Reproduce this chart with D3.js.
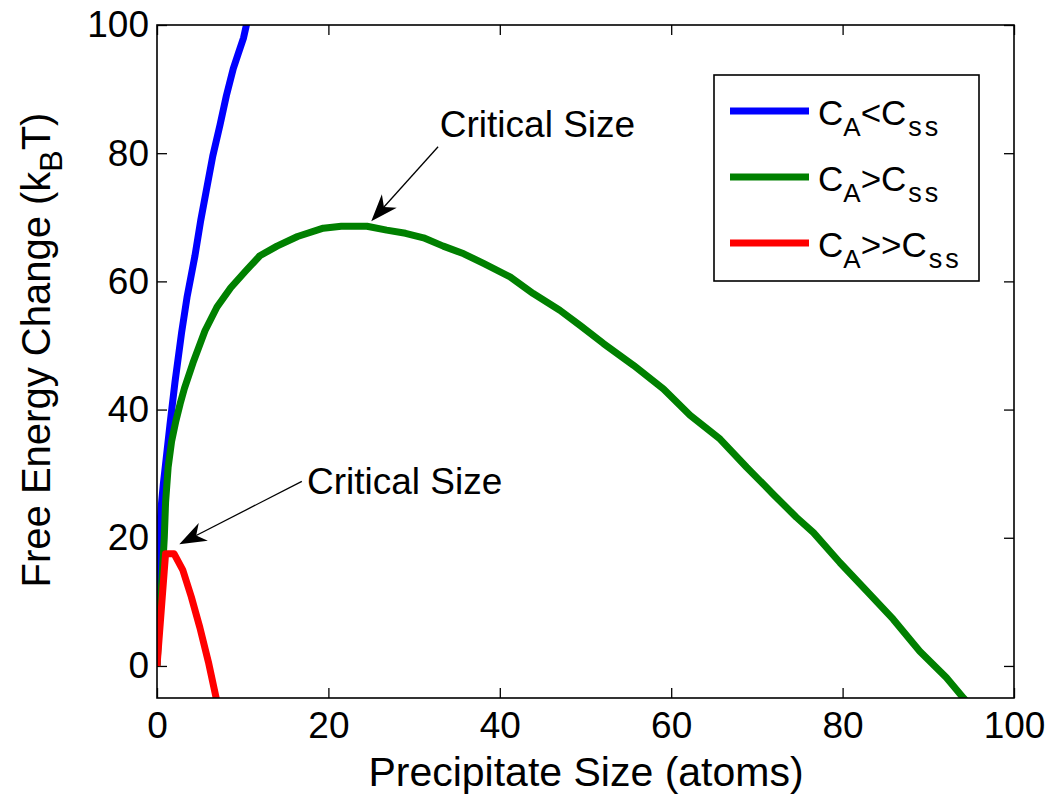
<!DOCTYPE html>
<html><head><meta charset="utf-8">
<script src="https://cdn.jsdelivr.net/npm/d3@7"></script>
<style>
body{margin:0;background:#fff;}
svg{display:block;font-family:Arial,"Liberation Sans",Helvetica,sans-serif;}
</style></head><body>
<svg id="chart" width="1049" height="795"></svg>
<script>
// ---------- data ----------
const xTicks = [0, 20, 40, 60, 80, 100];
const yTicks = [0, 20, 40, 60, 80, 100];

const blueX = [0, 0.05, 0.15, 0.27, 0.5, 0.74, 1, 1.5, 2.1, 2.87, 3.5, 4.43, 5.1, 5.8, 6.5, 7.35, 8.1, 8.9, 9.5, 10.1, 10.6];
const blueY = [0, 9, 16, 20.6, 25, 28.4, 31.5, 37.5, 44.3, 52, 57.5, 64, 69.5, 74.5, 79.5, 84.4, 89, 93.2, 95.6, 98, 101];

const greenX = [0, 0.3, 0.6, 0.85, 1.0, 1.3, 1.7, 2.2, 2.7, 3.2, 4.2, 5.6, 7.0, 8.6, 10.4, 12, 14, 16.4, 19.4, 21.5, 24.5, 26.8, 29, 31.1, 33.4, 35.8, 38.1, 41.2, 43.9, 47, 49.4, 52.1, 55.6, 59.1, 62.2, 65.7, 68.8, 71.9, 74.6, 76.6, 79.7, 82.8, 85.9, 89, 92.1, 94.1, 94.8];
const greenY = [0, 8, 14, 20, 25.5, 31, 35, 38.2, 40.9, 43.3, 47.3, 52.3, 56, 59, 61.7, 64, 65.5, 67, 68.3, 68.6, 68.6, 68, 67.5, 66.8, 65.5, 64.3, 62.8, 60.7, 58.1, 55.5, 53.1, 50.3, 46.9, 43.2, 39.1, 35.4, 31, 26.8, 23.2, 20.8, 16.1, 11.7, 7.3, 2.3, -1.8, -5, -6];

const redX = [0, 1, 2, 3, 4, 5, 6, 7];
const redY = [0, 17.5, 17.5, 15, 10.8, 6, 0.6, -5.6];

const seriesOps = ["<", ">", ">>"];
const seriesColors = ["#0000ff", "#008000", "#ff0000"];

// annotations (data coordinates)
const annoText = ["Critical Size", "Critical Size"];
const annoTextPos = [[33.0, 82.5], [17.5, 26.8]];
const annoTail = [[32.8, 81.0], [16.9, 28.8]];
const annoTip = [[25.0, 69.4], [2.6, 19.0]];

// ---------- layout ----------
const L = 157, R = 1014, T = 25, B = 698;
const svg = d3.select("#chart");
const x = d3.scaleLinear().domain([0, 100]).range([L, R]);
const y = d3.scaleLinear().domain([-5, 100]).range([B, T]);

svg.append("defs").append("clipPath").attr("id", "clip")
  .append("rect").attr("x", L).attr("y", T).attr("width", R - L).attr("height", B - T);

// ---------- axes ----------
const tickFont = "37px";
function styleAxis(g) {
  g.select(".domain").remove();
  g.selectAll(".tick line").attr("stroke", "#000").attr("stroke-width", 1.3);
  g.selectAll(".tick text").attr("fill", "#000").style("font-size", tickFont)
    .style("font-family", "Arial, 'Liberation Sans', sans-serif");
}
svg.append("g").attr("transform", `translate(0,${B})`)
  .call(d3.axisBottom(x).tickValues(xTicks).tickSizeInner(-10).tickSizeOuter(0).tickPadding(14).tickFormat(d3.format("d")))
  .call(styleAxis);
svg.append("g").attr("transform", `translate(0,${T})`)
  .call(d3.axisTop(x).tickValues(xTicks).tickSizeInner(-10).tickSizeOuter(0).tickFormat(""))
  .call(styleAxis);
svg.append("g").attr("transform", `translate(${L},0)`)
  .call(d3.axisLeft(y).tickValues(yTicks).tickSizeInner(-10).tickSizeOuter(0).tickPadding(8).tickFormat(d3.format("d")))
  .call(styleAxis);
svg.append("g").attr("transform", `translate(${R},0)`)
  .call(d3.axisRight(y).tickValues(yTicks).tickSizeInner(-10).tickSizeOuter(0).tickFormat(""))
  .call(styleAxis);

// ---------- lines ----------
const line = d3.line().x(d => x(d[0])).y(d => y(d[1]));
const series = [
  d3.zip(blueX, blueY),
  d3.zip(greenX, greenY),
  d3.zip(redX, redY)
];
const plot = svg.append("g").attr("clip-path", "url(#clip)");
series.forEach((s, i) => {
  plot.append("path").datum(s).attr("d", line)
    .attr("fill", "none").attr("stroke", seriesColors[i])
    .attr("stroke-width", 7).attr("stroke-linejoin", "round").attr("stroke-linecap", "butt");
});

// axes box
svg.append("rect").attr("x", L).attr("y", T).attr("width", R - L).attr("height", B - T)
  .attr("fill", "none").attr("stroke", "#000").attr("stroke-width", 1.6);

// ---------- annotations ----------
annoText.forEach((t, i) => {
  svg.append("text").attr("x", x(annoTextPos[i][0])).attr("y", y(annoTextPos[i][1]))
    .style("font-size", "37px").attr("fill", "#000").text(t);
  const tx = x(annoTail[i][0]), ty = y(annoTail[i][1]);
  const px = x(annoTip[i][0]), py = y(annoTip[i][1]);
  const dx = tx - px, dy = ty - py, len = Math.hypot(dx, dy);
  const ux = dx / len, uy = dy / len, nx = -uy, ny = ux;
  const hl = 27, hw = 10, notch = 19;
  svg.append("line").attr("x1", tx).attr("y1", ty)
    .attr("x2", px + ux * notch).attr("y2", py + uy * notch)
    .attr("stroke", "#000").attr("stroke-width", 1.3);
  const pts = [
    [px, py],
    [px + ux * hl + nx * hw, py + uy * hl + ny * hw],
    [px + ux * notch, py + uy * notch],
    [px + ux * hl - nx * hw, py + uy * hl - ny * hw]
  ];
  svg.append("path").attr("d", "M" + pts.map(p => p.join(",")).join("L") + "Z").attr("fill", "#000");
});

// ---------- legend ----------
const lg = svg.append("g");
lg.append("rect").attr("x", 714).attr("y", 75).attr("width", 265).attr("height", 206)
  .attr("fill", "#fff").attr("stroke", "#000").attr("stroke-width", 1.6);
seriesOps.forEach((op, i) => {
  const cy = 111 + i * 66;
  lg.append("line").attr("x1", 730).attr("x2", 809).attr("y1", cy).attr("y2", cy)
    .attr("stroke", seriesColors[i]).attr("stroke-width", 7);
  const t = lg.append("text").attr("x", 818).attr("y", cy + 14).attr("fill", "#000").style("font-size", "35px");
  t.append("tspan").text("C");
  t.append("tspan").attr("dy", 11).style("font-size", "26px").text("A");
  t.append("tspan").attr("dy", -11).text(op);
  t.append("tspan").text("C");
  t.append("tspan").attr("dy", 11).attr("dx", 2).style("font-size", "27px").attr("letter-spacing", 3).text("ss");
});

// ---------- axis labels ----------
svg.append("text").attr("x", 586).attr("y", 786).attr("text-anchor", "middle")
  .style("font-size", "41px").attr("fill", "#000").text("Precipitate Size (atoms)");
const yl = svg.append("text").attr("transform", "translate(50,350) rotate(-90)")
  .attr("text-anchor", "middle").style("font-size", "40px").attr("fill", "#000");
yl.append("tspan").text("Free Energy Change (k");
yl.append("tspan").attr("dy", 12).style("font-size", "32px").text("B");
yl.append("tspan").attr("dy", -12).text("T)");
</script>
</body></html>
